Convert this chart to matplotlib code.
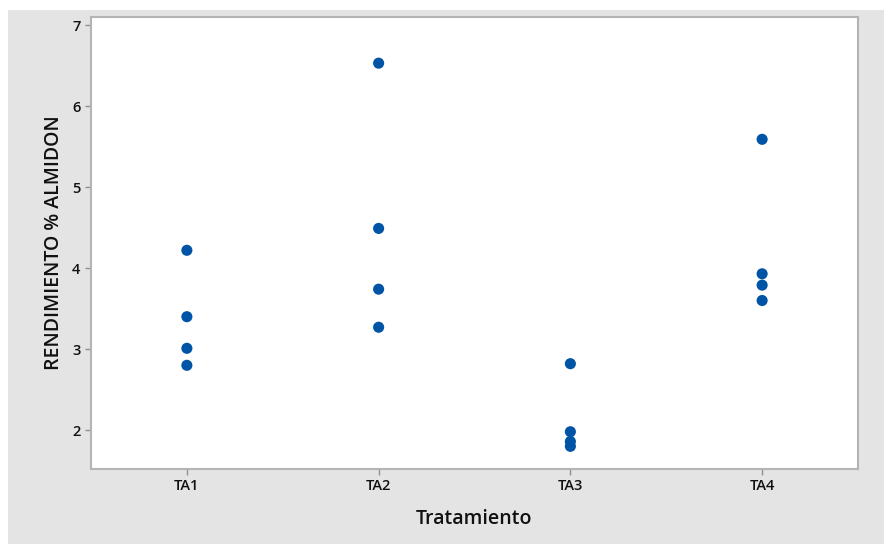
import numpy as np
import matplotlib.pyplot as plt
from matplotlib.patches import Rectangle

plt.rcParams['font.family'] = ['Open Sans', 'DejaVu Sans']

# individual values per treatment
grupos = ['TA1', 'TA2', 'TA3', 'TA4']
ta1 = [4.22, 3.40, 3.01, 2.80]
ta2 = [6.53, 4.49, 3.74, 3.27]
ta3 = [2.82, 1.98, 1.86, 1.80]
ta4 = [5.59, 3.93, 3.79, 3.60]
valores = [ta1, ta2, ta3, ta4]

fig = plt.figure(figsize=(8.84, 5.44), dpi=100, facecolor='white')
# gray panel behind the plot
fig.patches.append(Rectangle((8/884, 0), 1 - 8/884, 1 - 10/544, transform=fig.transFigure,
                             facecolor='#e4e4e4', edgecolor='none', zorder=-1))

ax = fig.add_axes([91/884, 75/544, 767/884, 452/544])
ax.set_facecolor('white')

for i, v in enumerate(valores):
    ax.scatter(np.full(len(v), i + 1), v, s=64, color='#0054a6', edgecolors='none', zorder=3)

ax.set_xlim(0.5, 4.5)
ax.set_ylim(1.52, 7.1)
ax.set_xticks(range(1, 5))
ax.set_xticklabels(grupos)
ax.set_yticks([2, 3, 4, 5, 6, 7])

for s in ax.spines.values():
    s.set_color('#b4b4b4')
    s.set_linewidth(1.5)
ax.tick_params(colors='#909090', labelcolor='#111111', labelsize=10.5, length=4, width=1)
for lbl in ax.get_xticklabels() + ax.get_yticklabels():
    lbl.set_fontweight('semibold')

ax.set_xlabel('Tratamiento', fontsize=14, color='#111111', labelpad=11, fontweight='semibold')
ax.set_ylabel('RENDIMIENTO % ALMIDON', fontsize=14, color='#111111', labelpad=6, fontweight='semibold')

fig.savefig('out.png', dpi=100)
